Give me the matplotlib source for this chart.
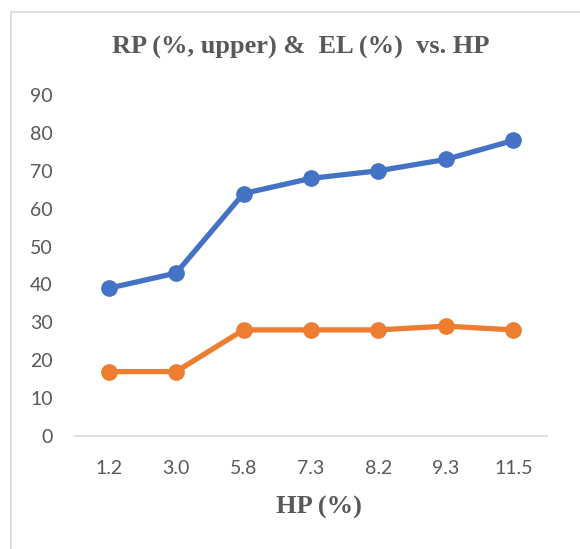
import matplotlib.pyplot as plt
from matplotlib.patches import Rectangle

HP = ["1.2", "3.0", "5.8", "7.3", "8.2", "9.3", "11.5"]
RP_UPPER = [39, 43, 64, 68, 70, 73, 78]
EL = [17, 17, 28, 28, 28, 29, 28]
YTICKS = list(range(0, 100, 10))

GREY = "#595959"

fig = plt.figure(figsize=(5.8, 5.49), dpi=100)
ax = fig.add_axes([75 / 580, 1 - 436 / 549, 472 / 580, 341 / 549])

x = range(len(HP))
ax.plot(x, RP_UPPER, color="#4472C4", lw=3.8, marker="o", ms=11, zorder=3)
ax.plot(x, EL, color="#ED7D31", lw=3.8, marker="o", ms=11, zorder=3)

ax.set_xlim(-0.5, len(HP) - 0.5)
ax.set_ylim(0, 90)
ax.set_xticks(list(x))
ax.set_xticklabels(HP)
ax.set_yticks(YTICKS)
ax.tick_params(length=0, labelsize=14, labelcolor=GREY, colors=GREY)
ax.tick_params(axis="y", pad=16)
ax.tick_params(axis="x", pad=17)
for lab in ax.get_xticklabels() + ax.get_yticklabels():
    lab.set_family("Lato")
for s in ["top", "right", "left"]:
    ax.spines[s].set_visible(False)
ax.spines["bottom"].set_color("#D9D9D9")
ax.spines["bottom"].set_linewidth(1.2)

fig.text(301 / 580, 1 - 47 / 549, "RP (%, upper) &  EL (%)  vs. HP", ha="center", va="center",
         family="Liberation Serif", weight="bold", size=19, color=GREY)
fig.text(319 / 580, 1 - 507 / 549, "HP (%)", ha="center", va="center",
         family="Liberation Serif", weight="bold", size=19, color=GREY)

# chart-area border, runs off the right and bottom edge like the source crop
fig.patches.append(Rectangle((11 / 580, -0.1), 1.2, 1 - 12 / 549 + 0.1,
                             transform=fig.transFigure, fill=False,
                             edgecolor="#D9D9D9", lw=1.2))

fig.savefig("out.png", dpi=100)
